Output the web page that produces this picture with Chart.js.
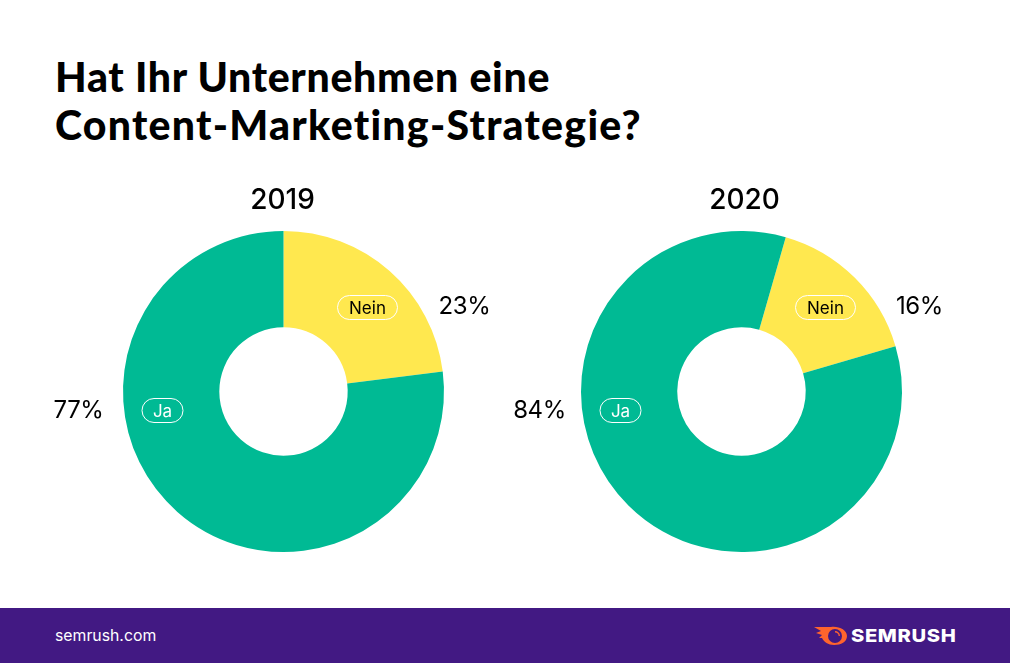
<!DOCTYPE html>
<html>
<head>
<meta charset="utf-8">
<script src="https://cdn.jsdelivr.net/npm/chart.js@4"></script>
<style>
  html, body { margin: 0; padding: 0; background: #fff; }
  #page { position: relative; width: 1010px; height: 663px; overflow: hidden; font-family: Inter, sans-serif; }
  #title { position: absolute; left: 55px; top: 53px; font: 900 41px/48px Lato, sans-serif; color: #000; white-space: nowrap; }
  canvas { position: absolute; top: 170px; }
  #footer { position: absolute; left: 0; top: 608px; width: 1010px; height: 55px; background: #421983; }
  #site { position: absolute; left: 55px; top: 19px; font-size: 15.8px; line-height: 18px; color: #fff; }
  #logo { position: absolute; left: 814px; top: 17px; }
  #brand { position: absolute; left: 851px; top: 17px; font: 800 18px/22px Inter, sans-serif; color: #fff; letter-spacing: 0.55px; transform: scaleX(1.12); transform-origin: left; }
</style>
</head>
<body>
<div id="page">
  <div id="title"><span style="letter-spacing:0.7px">Hat Ihr Unternehmen eine</span><br><span style="letter-spacing:1.26px">Content-Marketing-Strategie?</span></div>
  <canvas id="chart2019" width="505" height="430" style="left:0;width:505px;height:430px"></canvas>
  <canvas id="chart2020" width="505" height="430" style="left:505px;width:505px;height:430px"></canvas>
  <div id="footer">
    <div id="site">semrush.com</div>
    <svg id="logo" width="34" height="22" viewBox="0 0 34 22">
      <path d="M0 2 L17 2 C25 1 33 5 33 11 C33 17 27 20 20 20 C14 20 10 17 8 13 L5 13 L8 10 L2 8 L7 6 Z" fill="#ff642d"/>
      <circle cx="21" cy="11" r="7" fill="#421983"/>
      <path d="M21 6 A5 5 0 0 1 26 11 L24.6 11 A3.6 3.6 0 0 0 21 7.4 Z" fill="#ff642d"/>
    </svg>
    <div id="brand">SEMRUSH</div>
  </div>
</div>
<script>
const categories = ['Nein', 'Ja'];
const years = ['2019', '2020'];
const values2019 = [23, 77];
const values2020 = [16, 84];
const colors = ['#ffe84f', '#00ba94'];

// text offsets from the centre of each doughnut
const neinPill = { x: 84, y: -84 };
const jaPill = { x: -121, y: 19 };
const pctOffsets2019 = [{ x: 181, y: -85 }, { x: -205, y: 19 }];
const pctOffsets2020 = [{ x: 178, y: -85 }, { x: -202, y: 19 }];

function drawPill(c, text, x, y, w) {
    c.beginPath();
    c.roundRect(x - w / 2, y - 12, w, 24, 12);
    c.strokeStyle = '#fff';
    c.lineWidth = 1;
    c.stroke();
    c.font = '400 17px Inter';
    c.fillStyle = text === 'Ja' ? '#fff' : '#000';
    c.fillText(text, x, y + 1);
}

const labelPlugin = {
    id: 'labelPlugin',
    afterDraw(chart, args, opts) {
        const c = chart.ctx;
        const arc = chart.getDatasetMeta(0).data[0];
        const cx = arc.x, cy = arc.y;
        c.save();
        c.textAlign = 'center';
        c.textBaseline = 'middle';
        c.fillStyle = '#000';
        c.font = '500 28px Inter';
        c.fillText(opts.year, cx + opts.yearShift, cy - 191);
        c.font = '400 24px Inter';
        c.letterSpacing = '-0.4px';
        chart.data.datasets[0].data.forEach((v, i) => {
            c.fillText(v + '%', cx + opts.pct[i].x, cy + opts.pct[i].y);
        });
        c.letterSpacing = '0px';
        drawPill(c, categories[0], cx + neinPill.x, cy + neinPill.y, 60);
        drawPill(c, categories[1], cx + jaPill.x, cy + jaPill.y, 41);
        c.restore();
    }
};

function makeChart(id, values, rotation, padding, year, yearShift, pct) {
    return new Chart(document.getElementById(id), {
        type: 'doughnut',
        plugins: [labelPlugin],
        data: {
            labels: categories,
            datasets: [{
                data: values,
                backgroundColor: colors,
                borderWidth: 0
            }]
        },
        options: {
            responsive: false,
            animation: false,
            cutout: '40%',
            rotation: rotation,
            layout: { padding: padding },
            plugins: {
                legend: { display: false },
                tooltip: { enabled: false },
                labelPlugin: { year: year, yearShift: yearShift, pct: pct }
            }
        }
    });
}

makeChart('chart2019', values2019, 0, { left: 123, right: 61, top: 61, bottom: 48 }, years[0], -1, pctOffsets2019);
makeChart('chart2020', values2020, 16, { left: 76, right: 108, top: 61, bottom: 48 }, years[1], 3, pctOffsets2020);
</script>
</body>
</html>
